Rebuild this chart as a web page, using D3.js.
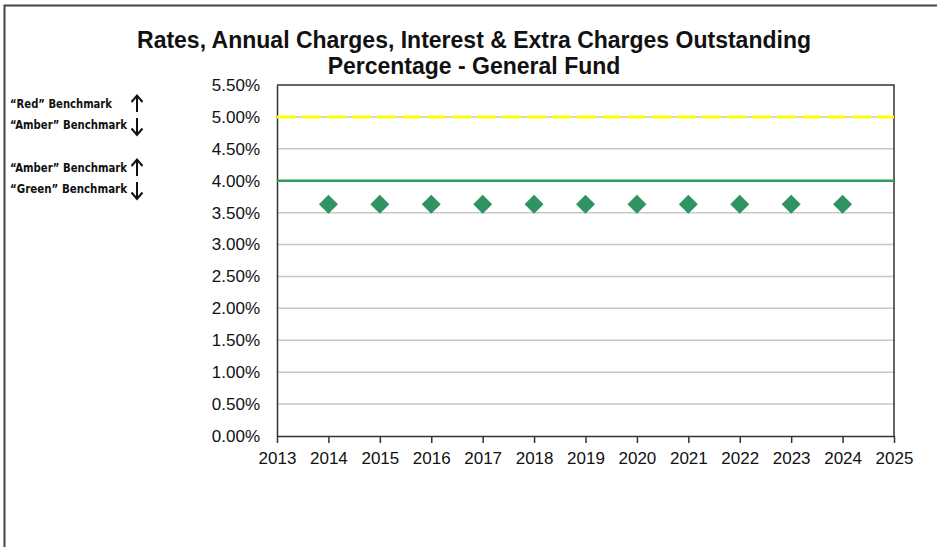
<!DOCTYPE html>
<html>
<head>
<meta charset="utf-8">
<script src="https://cdn.jsdelivr.net/npm/d3@7"></script>
<style>
  body { margin: 0; background: #fff; }
  #chart { width: 937px; height: 547px; }
  text { font-family: Arial, "Liberation Sans", sans-serif; fill: #111; }
</style>
</head>
<body>
<div id="chart"></div>
<script>
//Datos
const years = [2014, 2015, 2016, 2017, 2018, 2019, 2020, 2021, 2022, 2023, 2024];
const outstanding = [3.63, 3.63, 3.63, 3.63, 3.63, 3.63, 3.63, 3.63, 3.63, 3.63, 3.63];
const redBenchmark = 5.0;
const greenBenchmark = 4.0;
const yTicks = [0, 0.5, 1, 1.5, 2, 2.5, 3, 3.5, 4, 4.5, 5, 5.5];
const xTicks = [2013, 2014, 2015, 2016, 2017, 2018, 2019, 2020, 2021, 2022, 2023, 2024, 2025];
const titleLines = ['Rates, Annual Charges, Interest & Extra Charges Outstanding', 'Percentage - General Fund'];
const sideLabels = [
  ['\u201CRed\u201D Benchmark', '\u201CAmber\u201D Benchmark'],
  ['\u201CAmber\u201D Benchmark', '\u201CGreen\u201D Benchmark']
];

//Colores
const COLOR_YELLOW = '#ffff00',
  COLOR_GREEN = '#2e9a5e',
  COLOR_POINT = '#2f9462',
  COLOR_GRID = '#c8c8c8',
  COLOR_AXIS = '#333';

let margin = {top: 85, right: 43, bottom: 111, left: 277},
  width = 937 - margin.left - margin.right,
  height = 547 - margin.top - margin.bottom;

let root = d3.select('#chart').append('svg')
  .attr('width', 937)
  .attr('height', 547);

//Marco exterior
root.append('path')
  .attr('d', 'M4.5,547 L4.5,5.5 L937,5.5')
  .attr('fill', 'none')
  .attr('stroke', '#444')
  .attr('stroke-width', 2);

//Título
root.append('text')
  .attr('x', 474)
  .attr('y', 48)
  .attr('text-anchor', 'middle')
  .style('font-weight', 'bold')
  .style('font-size', '23px')
  .selectAll('tspan')
  .data(titleLines)
  .enter().append('tspan')
    .attr('x', 474)
    .attr('dy', function(d, i) { return i ? 26 : 0; })
    .text(function(d) { return d; });

let svg = root.append('g')
  .attr('transform', 'translate(' + margin.left + ',' + margin.top + ')');

let x = d3.scaleLinear().domain([2013, 2025]).range([0, width]);
let y = d3.scaleLinear().domain([0, 5.5]).range([height, 0]);

//Rejilla
svg.append('g')
  .selectAll('line')
  .data(yTicks.filter(function(d) { return d > 0 && d < 5.5; }))
  .enter().append('line')
    .attr('x1', 0).attr('x2', width)
    .attr('y1', function(d) { return y(d); })
    .attr('y2', function(d) { return y(d); })
    .attr('stroke', COLOR_GRID)
    .attr('stroke-width', 1.5);

//Eje Y
let yAxis = svg.append('g')
  .call(d3.axisLeft(y).tickValues(yTicks).tickSize(0).tickPadding(17)
    .tickFormat(function(d) { return d.toFixed(2) + '%'; }));
yAxis.select('.domain').attr('stroke', COLOR_AXIS).attr('stroke-width', 1.5);
yAxis.selectAll('text').style('font-size', '17px').style('font-family', 'Arial, "Liberation Sans", sans-serif').attr('fill', '#111');

//Eje X
let xAxis = svg.append('g')
  .attr('transform', 'translate(0,' + height + ')')
  .call(d3.axisBottom(x).tickValues(xTicks).tickSize(7).tickSizeOuter(0).tickPadding(9).tickFormat(d3.format('d')));
xAxis.select('.domain').attr('stroke', COLOR_AXIS).attr('stroke-width', 1.5);
xAxis.selectAll('line').attr('stroke', COLOR_AXIS).attr('stroke-width', 1.5);
xAxis.selectAll('text').style('font-size', '17px').style('font-family', 'Arial, "Liberation Sans", sans-serif').attr('fill', '#111');

//Borde superior y derecho
svg.append('path')
  .attr('d', 'M0,0 H' + width + ' V' + height)
  .attr('fill', 'none')
  .attr('stroke', COLOR_AXIS)
  .attr('stroke-width', 1.5);

//Benchmarks
svg.append('line')
  .attr('x1', 0).attr('x2', width)
  .attr('y1', y(redBenchmark)).attr('y2', y(redBenchmark))
  .attr('stroke', COLOR_YELLOW)
  .attr('stroke-width', 3)
  .attr('stroke-dasharray', '19 6');

svg.append('line')
  .attr('x1', 0).attr('x2', width)
  .attr('y1', y(greenBenchmark)).attr('y2', y(greenBenchmark))
  .attr('stroke', COLOR_GREEN)
  .attr('stroke-width', 2.5);

//Puntos
svg.selectAll('.pt')
  .data(years)
  .enter().append('path')
    .attr('class', 'pt')
    .attr('d', d3.symbol().type(d3.symbolDiamond2).size(230))
    .attr('transform', function(d, i) { return 'translate(' + x(d) + ',' + y(outstanding[i]) + ')'; })
    .attr('fill', COLOR_POINT);

//Etiquetas laterales
let side = root.append('g');
sideLabels.forEach(function(pair, k) {
  let top = k ? 172 : 108;
  pair.forEach(function(t, j) {
    side.append('text')
      .attr('x', 10)
      .attr('y', top + j * 21)
      .style('font-family', '"Liberation Sans Narrow", "DejaVu Sans Condensed", sans-serif')
      .style('font-weight', 'bold')
      .style('font-size', '12.5px')
      .attr('lengthAdjust', 'spacingAndGlyphs')
      .attr('textLength', k === 0 && j === 0 ? 102 : 117)
      .text(t);
  });
  //Flechas
  let ax = 137;
  side.append('path')
    .attr('d', 'M' + ax + ',' + (top + 4) + ' V' + (top - 12) + ' M' + (ax - 5.5) + ',' + (top - 6) + ' L' + ax + ',' + (top - 12.5) + ' L' + (ax + 5.5) + ',' + (top - 6))
    .attr('fill', 'none').attr('stroke', '#111').attr('stroke-width', 2);
  side.append('path')
    .attr('d', 'M' + ax + ',' + (top + 10) + ' V' + (top + 27) + ' M' + (ax - 5.5) + ',' + (top + 20.5) + ' L' + ax + ',' + (top + 27) + ' L' + (ax + 5.5) + ',' + (top + 20.5))
    .attr('fill', 'none').attr('stroke', '#111').attr('stroke-width', 2);
});
</script>
</body>
</html>
